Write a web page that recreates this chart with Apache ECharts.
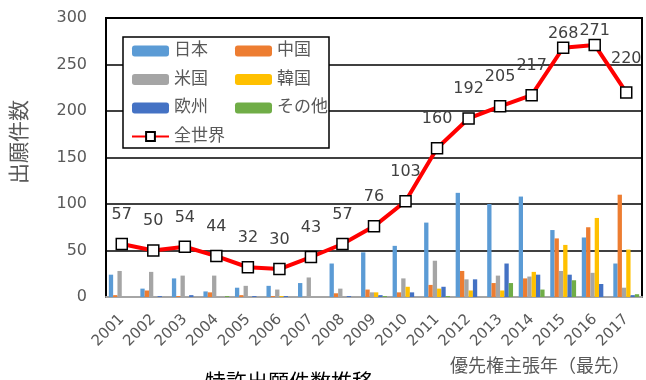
<!DOCTYPE html>
<html>
<head>
<meta charset="utf-8">
<script src="https://cdn.jsdelivr.net/npm/echarts@6/dist/echarts.min.js"></script>
<style>html,body{margin:0;padding:0;background:#fff}#c{width:646px;height:380px}</style>
</head>
<body>
<div id="c"></div>
<script>
const years = ['2001','2002','2003','2004','2005','2006','2007','2008','2009','2010','2011','2012','2013','2014','2015','2016','2017'];
const japan  = [24, 9, 20, 6, 10, 12, 15, 36, 48, 55, 80, 112, 100, 108, 72, 64, 36];
const china  = [2, 7, 1, 5, 2, 1, 0, 4, 8, 5, 13, 28, 15, 20, 63, 75, 110];
const usa    = [28, 27, 23, 23, 12, 8, 21, 9, 5, 20, 39, 19, 23, 22, 28, 26, 10];
const korea  = [0, 0, 0, 0, 0, 1, 0, 0, 5, 11, 9, 7, 7, 27, 56, 85, 51];
const europe = [0, 1, 2, 0, 1, 1, 0, 1, 2, 5, 11, 19, 36, 24, 24, 14, 2];
const other  = [0, 0, 0, 1, 0, 0, 0, 0, 1, 0, 1, 0, 15, 8, 18, 0, 3];
const world  = [57, 50, 54, 44, 32, 30, 43, 57, 76, 103, 160, 192, 205, 217, 268, 271, 220];
const yTicks = [0, 50, 100, 150, 200, 250, 300];

const FONT = "'DejaVu Sans', 'Noto Sans CJK JP', sans-serif";
const GRAY = '#595959';

const barSeries = [
  ['日本', japan, '#5B9BD5'],
  ['中国', china, '#ED7D31'],
  ['米国', usa, '#A5A5A5'],
  ['韓国', korea, '#FFC000'],
  ['欧州', europe, '#4472C4'],
  ['その他', other, '#70AD47']
].map(([name, data, color]) => ({
  name, type: 'bar', data, barGap: '0%', barCategoryGap: '18%',
  itemStyle: { color }, z: 2
}));

// label distance tweaks for points near the top of the plot
const labelDist = { 14: 0, 15: 0, 16: 19 };
const worldData = world.map((v, i) => (labelDist[i] !== undefined
  ? { value: v, label: { distance: labelDist[i] } } : v));

const chart = echarts.init(document.getElementById('c'));
chart.setOption({
  animation: false,
  textStyle: { fontFamily: FONT },
  grid: { left: 106, right: 4, top: 18, bottom: 83, show: true, borderColor: '#000', borderWidth: 2, containLabel: false },
  xAxis: {
    type: 'category', data: years,
    axisTick: { show: false },
    axisLine: { lineStyle: { color: '#a6a6a6', width: 2 } },
    axisLabel: { rotate: 45, fontSize: 15, color: GRAY, margin: 20, fontFamily: FONT }
  },
  yAxis: {
    type: 'value', min: yTicks[0], max: yTicks[yTicks.length - 1], interval: 50,
    axisLine: { show: false }, axisTick: { show: false },
    axisLabel: { fontSize: 16, color: GRAY, margin: 19, fontFamily: FONT },
    splitLine: { lineStyle: { color: '#000', width: 1.5 } }
  },
  legend: [
    { data: ['日本', '米国', '欧州', '全世界'], orient: 'vertical', left: 131, top: 42, padding: 0,
      itemWidth: 37, itemHeight: 11, itemGap: 10.5, z: 6,
      textStyle: { fontSize: 17, color: GRAY, lineHeight: 18, fontFamily: FONT } },
    { data: ['中国', '韓国', 'その他'], orient: 'vertical', left: 235, top: 42, padding: 0,
      itemWidth: 37, itemHeight: 11, itemGap: 10.5, z: 6,
      textStyle: { fontSize: 17, color: GRAY, lineHeight: 18, fontFamily: FONT } }
  ],
  graphic: [
    { type: 'rect', z: 5, shape: { x: 123, y: 37, width: 206, height: 111 },
      style: { fill: '#fff', stroke: '#000', lineWidth: 1.5 } },
    { type: 'text', z: 5, x: 18, y: 142, rotation: Math.PI / 2,
      style: { text: '出願件数', fill: GRAY, align: 'center', verticalAlign: 'middle',
        font: "21px 'Noto Sans CJK JP', sans-serif" } },
    { type: 'text', z: 5, right: 16, top: 358,
      style: { text: '優先権主張年（最先）', fill: GRAY, font: "18px 'DejaVu Sans', 'Noto Sans CJK JP', sans-serif" } },
    { type: 'text', z: 5, left: 205, top: 371,
      style: { text: '特許出願件数推移', fill: '#000', font: "21px 'Noto Sans CJK JP', sans-serif" } }
  ],
  series: [
    ...barSeries,
    { name: '全世界', type: 'line', data: worldData, z: 4,
      symbol: 'rect', symbolSize: 11,
      lineStyle: { color: '#FF0000', width: 4 },
      itemStyle: { color: '#fff', borderColor: '#000', borderWidth: 1.5 },
      label: { show: true, position: 'top', distance: 15, fontSize: 16, color: '#404040', fontFamily: FONT } }
  ]
});
</script>
</body>
</html>
